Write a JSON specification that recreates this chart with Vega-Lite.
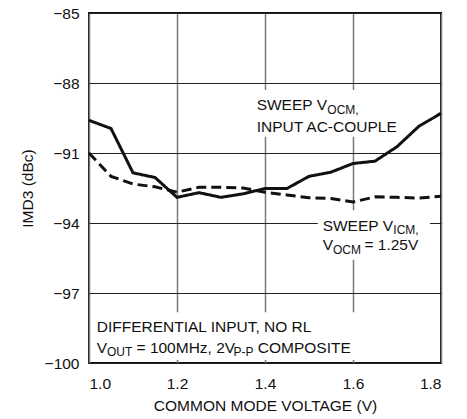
{
  "$schema": "https://vega.github.io/schema/vega-lite/v6.json",
  "autosize": "none",
  "width": 352,
  "height": 350,
  "padding": {"left": 89, "top": 13, "right": 26, "bottom": 56},
  "background": "white",
  "config": {
    "font": "Liberation Sans",
    "view": {"stroke": "#111", "strokeWidth": 2},
    "axis": {"labelFont": "Liberation Sans", "titleFont": "Liberation Sans", "labelColor": "#111", "titleColor": "#111", "labelFontSize": 15.5, "titleFontSize": 15.5, "titleFontWeight": "normal", "domain": false, "ticks": false}
  },
  "datasets": {
    "curves": [
      {"v": 1.0, "imd": -89.6, "series": "ocm"},
      {"v": 1.05, "imd": -89.95, "series": "ocm"},
      {"v": 1.1, "imd": -91.85, "series": "ocm"},
      {"v": 1.15, "imd": -92.05, "series": "ocm"},
      {"v": 1.2, "imd": -92.9, "series": "ocm"},
      {"v": 1.25, "imd": -92.7, "series": "ocm"},
      {"v": 1.3, "imd": -92.9, "series": "ocm"},
      {"v": 1.35, "imd": -92.75, "series": "ocm"},
      {"v": 1.4, "imd": -92.52, "series": "ocm"},
      {"v": 1.45, "imd": -92.52, "series": "ocm"},
      {"v": 1.5, "imd": -92.0, "series": "ocm"},
      {"v": 1.55, "imd": -91.82, "series": "ocm"},
      {"v": 1.6, "imd": -91.45, "series": "ocm"},
      {"v": 1.65, "imd": -91.35, "series": "ocm"},
      {"v": 1.7, "imd": -90.73, "series": "ocm"},
      {"v": 1.75, "imd": -89.85, "series": "ocm"},
      {"v": 1.8, "imd": -89.3, "series": "ocm"},
      {"v": 1.0, "imd": -91.0, "series": "icm"},
      {"v": 1.05, "imd": -92.0, "series": "icm"},
      {"v": 1.1, "imd": -92.33, "series": "icm"},
      {"v": 1.15, "imd": -92.45, "series": "icm"},
      {"v": 1.2, "imd": -92.68, "series": "icm"},
      {"v": 1.25, "imd": -92.47, "series": "icm"},
      {"v": 1.3, "imd": -92.47, "series": "icm"},
      {"v": 1.35, "imd": -92.5, "series": "icm"},
      {"v": 1.4, "imd": -92.68, "series": "icm"},
      {"v": 1.45, "imd": -92.8, "series": "icm"},
      {"v": 1.5, "imd": -92.92, "series": "icm"},
      {"v": 1.55, "imd": -92.95, "series": "icm"},
      {"v": 1.6, "imd": -93.1, "series": "icm"},
      {"v": 1.65, "imd": -92.88, "series": "icm"},
      {"v": 1.7, "imd": -92.9, "series": "icm"},
      {"v": 1.75, "imd": -92.93, "series": "icm"},
      {"v": 1.8, "imd": -92.85, "series": "icm"}
    ],
    "boxes": [
      {"x1": 1.37, "x2": 1.72, "y1": -88.3, "y2": -90.3},
      {"x1": 1.52, "x2": 1.775, "y1": -93.45, "y2": -95.58},
      {"x1": 1.005, "x2": 1.65, "y1": -97.82, "y2": -99.87}
    ],
    "labels": [
      {"x": 1.381, "y": -89.16, "t": "SWEEP V", "sub": false},
      {"x": 1.5416, "y": -89.16, "t": "OCM,", "sub": true},
      {"x": 1.381, "y": -90.09, "t": "INPUT AC-COUPLE", "sub": false},
      {"x": 1.531, "y": -94.33, "t": "SWEEP V", "sub": false},
      {"x": 1.6916, "y": -94.33, "t": "ICM,", "sub": true},
      {"x": 1.531, "y": -95.16, "t": "V", "sub": false},
      {"x": 1.5545, "y": -95.16, "t": "OCM", "sub": true},
      {"x": 1.626, "y": -95.16, "t": "= 1.25V", "sub": false},
      {"x": 1.0175, "y": -98.66, "t": "DIFFERENTIAL INPUT, NO RL", "sub": false},
      {"x": 1.0175, "y": -99.56, "t": "V", "sub": false},
      {"x": 1.0409, "y": -99.56, "t": "OUT", "sub": true},
      {"x": 1.108, "y": -99.56, "t": "= 100MHz, 2V", "sub": false},
      {"x": 1.3284, "y": -99.56, "t": "P-P", "sub": true},
      {"x": 1.3836, "y": -99.56, "t": "COMPOSITE", "sub": false}
    ]
  },
  "layer": [
    {
      "data": {"name": "boxes"},
      "mark": {"type": "rect", "fill": "white", "stroke": null},
      "encoding": {
        "x": {"field": "x1", "type": "quantitative", "scale": {"domain": [1.0, 1.8], "nice": false, "zero": false},
          "axis": {"values": [1.0, 1.2, 1.4, 1.6, 1.8], "format": ".1f", "title": "COMMON MODE VOLTAGE (V)", "labelPadding": 13, "titlePadding": 7, "gridColor": "#7a7a7a", "gridWidth": 1.5, "gridOpacity": 1, "zindex": 0}},
        "x2": {"field": "x2"},
        "y": {"field": "y1", "type": "quantitative", "scale": {"domain": [-100, -85], "nice": false, "zero": false},
          "axis": {"values": [-100, -97, -94, -91, -88, -85], "title": "IMD3 (dBc)", "labelPadding": 10, "titleX": -54, "titleY": 175, "gridColor": "#222", "gridWidth": 1, "gridOpacity": 1, "zindex": 0}},
        "y2": {"field": "y2"}
      }
    },
    {
      "data": {"name": "curves"},
      "mark": {"type": "line", "strokeWidth": 3, "color": "#111", "strokeCap": "butt", "strokeJoin": "miter"},
      "encoding": {
        "x": {"field": "v", "type": "quantitative"},
        "y": {"field": "imd", "type": "quantitative"},
        "detail": {"field": "series"},
        "strokeDash": {"field": "series", "type": "nominal", "scale": {"domain": ["ocm", "icm"], "range": [[1, 0], [10, 5]]}, "legend": null}
      }
    },
    {
      "data": {"name": "labels"},
      "transform": [{"filter": "!datum.sub"}],
      "mark": {"type": "text", "align": "left", "baseline": "alphabetic", "fontSize": 15.5, "color": "#111"},
      "encoding": {
        "x": {"field": "x", "type": "quantitative"},
        "y": {"field": "y", "type": "quantitative"},
        "text": {"field": "t"}
      }
    },
    {
      "data": {"name": "labels"},
      "transform": [{"filter": "datum.sub"}],
      "mark": {"type": "text", "align": "left", "baseline": "alphabetic", "fontSize": 12, "dy": 3.5, "color": "#111"},
      "encoding": {
        "x": {"field": "x", "type": "quantitative"},
        "y": {"field": "y", "type": "quantitative"},
        "text": {"field": "t"}
      }
    }
  ]
}
